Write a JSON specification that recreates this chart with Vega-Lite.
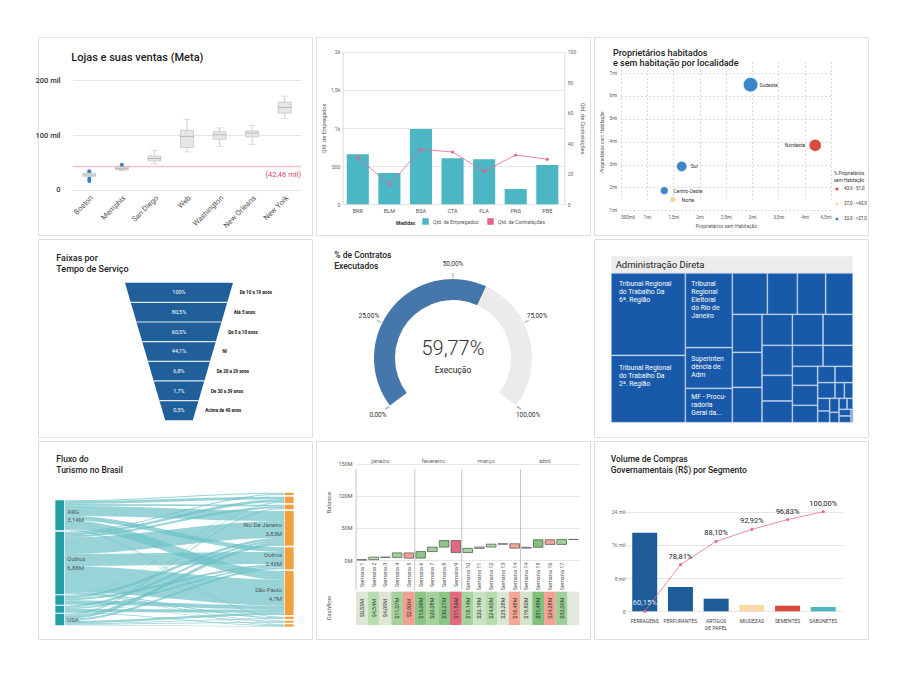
{
"$schema":"https://vega.github.io/schema/vega-lite/v6.json",
"padding":{"left":34,"top":36,"right":4,"bottom":4},
"background":"white",
"config":{"font":"Roboto","view":{"stroke":"#dedede","strokeWidth":1,"fill":"white"},
"locale":{"number":{"decimal":",","thousands":".","grouping":[3],"currency":["R$ ",""]}}},
"columns":3,
"spacing":4,
"bounds":"flush",
"concat":[
{"width":274,"height":198,
"title":{"text":"Lojas e suas ventas (Meta)","anchor":"start","frame":"group","offset":-25.5,"dx":33.3,"fontSize":11,"fontWeight":500,"color":"#222"},
"data":{"values":[
{"s":"Boston","lo":23000,"q1":24500,"m":27000,"q3":30000,"hi":31500},
{"s":"Memphis","lo":35000,"q1":36500,"m":38500,"q3":41500,"hi":43000},
{"s":"San Diego","lo":47500,"q1":52500,"m":57000,"q3":61500,"hi":72000},
{"s":"Web","lo":69000,"q1":77000,"m":97500,"q3":108500,"hi":128500},
{"s":"Washington","lo":79000,"q1":92000,"m":100500,"q3":106000,"hi":113000},
{"s":"New Orleans","lo":83000,"q1":96500,"m":103500,"q3":107500,"hi":117500},
{"s":"New York","lo":130000,"q1":140000,"m":150500,"q3":160000,"hi":171000}]},
"layer":[
{"mark":{"type":"rule","color":"#c2c2c2","strokeWidth":0.8},
"encoding":{
"x":{"field":"s","type":"nominal","title":null,"scale":{"domain":["Boston","Memphis","San Diego","Web","Washington","New Orleans","New York"],"range":[35,263],"paddingInner":0,"paddingOuter":0},"axis":{"orient":"bottom","offset":-45.3,"labelAngle":-45,"labelFontSize":7.5,"labelColor":"#555","ticks":false,"domain":false,"labelPadding":4,"grid":false}},
"y":{"field":"lo","type":"quantitative","title":null,"scale":{"domain":[0,200000],"range":[152.7,43.3],"nice":false},"axis":{"offset":-24,"values":[0,100000,200000],"labelExpr":"datum.value == 0 ? '0' : datum.value/1000 + ' mil'","labelFontSize":7.5,"labelColor":"#333","labelFontWeight":500,"ticks":false,"domain":false,"grid":true,"gridColor":"#e4e4e4","labelPadding":2}},
"y2":{"field":"hi"}}},
{"mark":{"type":"tick","color":"#c2c2c2","size":7,"thickness":0.8},"encoding":{"x":{"field":"s","type":"nominal","title":null},"y":{"field":"lo","type":"quantitative","title":null}}},
{"mark":{"type":"tick","color":"#c2c2c2","size":7,"thickness":0.8},"encoding":{"x":{"field":"s","type":"nominal","title":null},"y":{"field":"hi","type":"quantitative","title":null}}},
{"mark":{"type":"bar","size":13,"fill":"#e6e6e6","stroke":"#c6c6c6","strokeWidth":0.8},"encoding":{"x":{"field":"s","type":"nominal","title":null},"y":{"field":"q1","type":"quantitative","title":null},"y2":{"field":"q3"}}},
{"mark":{"type":"tick","size":13,"thickness":1,"color":"#a3a3a3"},"encoding":{"x":{"field":"s","type":"nominal","title":null},"y":{"field":"m","type":"quantitative","title":null}}},
{"mark":{"type":"tick","size":32.6,"thickness":1.5,"color":"#f2a5b6"},"encoding":{"x":{"field":"s","type":"nominal","title":null},"y":{"datum":42460}}},
{"data":{"values":[{"s":"Boston","v":33600},{"s":"Boston","v":20100},{"s":"Boston","v":15900},{"s":"Memphis","v":45500}]},
"mark":{"type":"circle","size":16,"color":"#3b7dc0","opacity":1},"encoding":{"x":{"field":"s","type":"nominal","title":null},"y":{"field":"v","type":"quantitative","title":null}}},
{"data":{"values":[{"t":"(42,46 mil)"}]},"mark":{"type":"text","align":"right","baseline":"middle","fontSize":7.5,"color":"#d9456b","dy":9},
"encoding":{"x":{"datum":"New York","type":"nominal","bandPosition":1},"y":{"datum":42460},"text":{"field":"t"}}}
]},
{"width":274,"height":198,
"data":{"values":[{"c":"BRR","e":655,"k":30.8},{"c":"BLM","e":410,"k":12.8},{"c":"BSA","e":987,"k":36},{"c":"CTA","e":603,"k":34.3},{"c":"FLA","e":590,"k":21.6},{"c":"PNS","e":200,"k":32.3},{"c":"PBE","e":515,"k":29.5}]},
"layer":[
{"mark":{"type":"bar"},
"encoding":{
"x":{"field":"c","type":"nominal","sort":null,"title":null,"scale":{"range":[26,247.1],"paddingInner":0.3,"paddingOuter":0.15},"axis":{"offset":-30.7,"labelAngle":0,"labelFontSize":5.5,"labelColor":"#555","ticks":false,"domain":false,"labelPadding":4}},
"y":{"field":"e","type":"quantitative","scale":{"domain":[0,2000],"range":[167.3,14.7],"nice":false},"axis":{"offset":-26.7,"values":[0,500,1000,1500,2000],"labelExpr":"datum.value >= 1000 ? format(datum.value/1000,'~g') + 'k' : datum.label","labelFontSize":5,"labelColor":"#666","ticks":false,"domain":true,"domainColor":"#dcdcdc","grid":true,"gridColor":"#e6e6e6","title":"Qtd. de Empregados","titleFontSize":5.5,"titleFontWeight":"normal","titleColor":"#555","labelPadding":3,"titlePadding":4}},
"color":{"datum":"Qtd. de Empregados","scale":{"domain":["Qtd. de Empregados","Qtd. de Contratações"],"range":["#4db6c4","#e2668a"]},"legend":{"orient":"none","legendX":80,"legendY":181,"direction":"horizontal","title":"Medidas","titleOrient":"left","titleFontSize":5,"titleFontWeight":"bold","titleColor":"#333","labelFontSize":5,"labelColor":"#555","symbolType":"square","symbolSize":25,"columnPadding":6,"titlePadding":6}}}},
{"mark":{"type":"line","strokeWidth":0.8,"point":{"filled":true,"size":10}},
"encoding":{
"x":{"field":"c","type":"nominal","sort":null,"title":null},
"y":{"field":"k","type":"quantitative","scale":{"domain":[0,100],"range":[167.3,14.7],"nice":false},"axis":{"orient":"right","offset":-25.7,"values":[0,20,40,60,80,100],"labelFontSize":5,"labelColor":"#666","ticks":false,"domain":true,"domainColor":"#dcdcdc","grid":false,"title":"Qtd. de Contratações","titleFontSize":5.5,"titleFontWeight":"normal","titleColor":"#555","labelPadding":3,"titlePadding":4}},
"color":{"datum":"Qtd. de Contratações"}}}
],
"resolve":{"scale":{"y":"independent"}}},
{"width":274,"height":198,
"title":{"text":["Proprietários habitados","e sem habitação por localidade"],"anchor":"start","frame":"group","offset":-31.2,"dx":19,"fontSize":9,"lineHeight":10.6,"fontWeight":500,"color":"#222"},
"data":{"values":[
{"r":"Sudeste","x":2970000,"y":6490000,"p":20.1,"g":"33,0 - <37,0"},
{"r":"Nordeste","x":4200000,"y":3840000,"p":14.1,"g":"43,9 - 51,0"},
{"r":"Sul","x":1660000,"y":2920000,"p":10.2,"g":"33,0 - <37,0"},
{"r":"Centro-Oeste","x":1330000,"y":1860000,"p":5.8,"g":"33,0 - <37,0"},
{"r":"Norte","x":1490000,"y":1470000,"p":3.4,"g":"37,0 - <43,9"}]},
"encoding":{
"x":{"field":"x","type":"quantitative","scale":{"domain":[500000,4500000],"range":[26.7,237],"nice":false,"zero":false},"axis":{"offset":-24.7,"values":[500000,1000000,1500000,2000000,2500000,3000000,3500000,4000000,4500000],"labelExpr":"datum.value < 1000000 ? format(datum.value/1000,'~g') + 'mil' : format(datum.value/1000000,'~g') + 'mi'","labelFlush":true,"labelFontSize":4.5,"labelColor":"#555","ticks":false,"domain":false,"grid":true,"gridDash":[2,2],"gridColor":"#d8d8d8","title":"Proprietários sem Habitação","titleFontSize":4.8,"titleFontWeight":"normal","titleColor":"#555","labelPadding":4,"titlePadding":5}},
"y":{"field":"y","type":"quantitative","scale":{"domain":[1000000,7000000],"range":[173.3,36],"nice":false,"zero":false},"axis":{"offset":-26.7,"values":[1000000,2000000,3000000,4000000,5000000,6000000,7000000],"labelExpr":"format(datum.value/1000000,'~g') + 'mi'","labelFontSize":4.5,"labelColor":"#555","ticks":false,"domain":false,"grid":true,"gridDash":[2,2],"gridColor":"#d8d8d8","title":"Proprietários com Habitação","titleFontSize":4.8,"titleFontWeight":"normal","titleColor":"#555","labelPadding":4,"titlePadding":5}}},
"layer":[
{"mark":{"type":"circle","opacity":1,"stroke":"white","strokeWidth":0.5},
"encoding":{"size":{"field":"p","type":"quantitative","scale":{"domain":[0,20.1],"range":[0,210]},"legend":null},
"color":{"field":"g","type":"nominal","scale":{"domain":["43,9 - 51,0","37,0 - <43,9","33,0 - <37,0"],"range":["#d84a3e","#fbd5a1","#3a86c8"]},"legend":{"orient":"none","legendX":240,"legendY":134,"title":["% Proprietários","sem Habitação"],"titleFontSize":4.5,"titleFontWeight":"normal","titleColor":"#333","labelFontSize":4.5,"labelColor":"#333","symbolType":"square","symbolSize":18,"rowPadding":3,"titlePadding":4}}}},
{"transform":[{"filter":"datum.r != 'Nordeste'"}],"mark":{"type":"text","align":"left","baseline":"middle","dx":9,"fontSize":5,"color":"#333"},"encoding":{"text":{"field":"r"}}},
{"transform":[{"filter":"datum.r == 'Nordeste'"}],"mark":{"type":"text","align":"right","baseline":"middle","dx":-10,"fontSize":5,"color":"#333"},"encoding":{"text":{"field":"r"}}}
]},
{"width":274,"height":198,
"title":{"text":["Faixas por","Tempo de Serviço"],"anchor":"start","frame":"group","offset":-34.6,"dx":18.3,"fontSize":9,"lineHeight":10.7,"fontWeight":500,"color":"#222"},
"layer":[
{"data":{"values":[{"k":0,"l":-1,"r":1},{"k":7,"l":-0.256,"r":0.256}]},"mark":{"type":"area","orient":"horizontal","color":"#215f9a","opacity":1},
"encoding":{"y":{"field":"k","type":"quantitative","scale":{"domain":[-2.22,7.85],"reverse":true,"nice":false,"zero":false},"axis":null},"x":{"field":"l","type":"quantitative","scale":{"domain":[-2.611,2.463],"nice":false,"zero":false},"axis":null},"x2":{"field":"r"}}},
{"data":{"values":[{"k":1,"l":-0.894,"r":0.894},{"k":2,"l":-0.787,"r":0.787},{"k":3,"l":-0.681,"r":0.681},{"k":4,"l":-0.575,"r":0.575},{"k":5,"l":-0.468,"r":0.468},{"k":6,"l":-0.362,"r":0.362}]},
"mark":{"type":"rule","color":"#dfe8f2","strokeWidth":1.2},"encoding":{"y":{"field":"k","type":"quantitative","axis":null},"x":{"field":"l","type":"quantitative","axis":null},"x2":{"field":"r"}}},
{"data":{"values":[{"k":0.5,"p":"100%","n":"De 10 a 19 anos","h":0.947},{"k":1.5,"p":"80,5%","n":"Até 5 anos","h":0.84},{"k":2.5,"p":"60,5%","n":"De 5 a 10 anos","h":0.734},{"k":3.5,"p":"44,1%","n":"NI","h":0.628},{"k":4.5,"p":"6,8%","n":"De 20 a 29 anos","h":0.522},{"k":5.5,"p":"1,7%","n":"De 30 a 39 anos","h":0.415},{"k":6.5,"p":"0,5%","n":"Acima de 40 anos","h":0.309}]},
"layer":[
{"mark":{"type":"text","color":"white","fontSize":5.5,"baseline":"middle"},"encoding":{"y":{"field":"k","type":"quantitative","axis":null},"x":{"datum":0,"type":"quantitative","axis":null},"text":{"field":"p"}}},
{"mark":{"type":"text","align":"left","baseline":"middle","dx":9.5,"dy":1,"fontSize":4.5,"fontWeight":"bold","color":"#111"},"encoding":{"y":{"field":"k","type":"quantitative","axis":null},"x":{"field":"h","type":"quantitative","axis":null},"text":{"field":"n"}}}
]}
]},
{"width":274,"height":198,
"title":{"text":["% de Contratos","Executados"],"anchor":"start","frame":"group","offset":-31.1,"dx":18.3,"fontSize":8.5,"lineHeight":10.3,"fontWeight":500,"color":"#222"},
"layer":[
{"data":{"values":[{"p":"Executado","s":0,"e":59.77},{"p":"Restante","s":59.77,"e":100}]},
"mark":{"type":"arc","radius":79,"radius2":58,"yOffset":20},
"encoding":{"theta":{"field":"s","type":"quantitative","stack":null,"scale":{"domain":[0,100],"range":[-2.217,2.217]}},"theta2":{"field":"e"},
"color":{"field":"p","type":"nominal","scale":{"domain":["Executado","Restante"],"range":["#4677aa","#ebebeb"]},"legend":null}}},
{"data":{"values":[{"a":-0.25,"b":0.25},{"a":24.8,"b":25.2},{"a":49.8,"b":50.2},{"a":74.8,"b":75.2},{"a":99.75,"b":100.25}]},
"mark":{"type":"arc","radius":85,"radius2":80,"yOffset":20,"color":"#bdbdbd"},
"encoding":{"theta":{"field":"a","type":"quantitative","stack":null},"theta2":{"field":"b"}}},
{"data":{"values":[{"v":0,"l":"0,00%"},{"v":25,"l":"25,00%"},{"v":50,"l":"50,00%"},{"v":75,"l":"75,00%"},{"v":100,"l":"100,00%"}]},
"mark":{"type":"text","radius":94,"yOffset":20,"fontSize":6.5,"color":"#333"},
"encoding":{"theta":{"field":"v","type":"quantitative"},"text":{"field":"l"}}},
{"data":{"values":[{"t":"59,77%"}]},"mark":{"type":"text","fontSize":20,"fontWeight":300,"dy":11,"color":"#333","baseline":"middle"},"encoding":{"text":{"field":"t"}}},
{"data":{"values":[{"t":"Execução"}]},"mark":{"type":"text","fontSize":8.5,"dy":32,"color":"#222","baseline":"middle"},"encoding":{"text":{"field":"t"}}}
]},
{"width":274,"height":198,
"layer":[
{"data":{"values":[{"x":0,"x2":724,"y":-51,"y2":0}]},"mark":{"type":"rect","color":"#ececec"},
"encoding":{"x":{"field":"x","type":"quantitative","scale":{"domain":[0,724],"range":[17.3,258.7],"nice":false,"zero":false},"axis":null},"x2":{"field":"x2"},
"y":{"field":"y","type":"quantitative","scale":{"domain":[-51,447],"range":[17.3,183.3],"nice":false,"zero":false},"axis":null},"y2":{"field":"y2"}}},
{"data":{"values":[{"x":13,"y":-25,"t":"Administração Direta"}]},"mark":{"type":"text","align":"left","baseline":"middle","fontSize":9.5,"color":"#222"},
"encoding":{"x":{"field":"x","type":"quantitative","axis":null},"y":{"field":"y","type":"quantitative","axis":null},"text":{"field":"t"}}},
{"data":{"values":[
{"x":0,"x2":221,"y":0,"y2":245},{"x":0,"x2":221,"y":247,"y2":447},
{"x":223,"x2":362,"y":0,"y2":222},{"x":223,"x2":362,"y":224,"y2":344},{"x":223,"x2":362,"y":346,"y2":447},
{"x":364,"x2":467,"y":0,"y2":122},{"x":469,"x2":557,"y":0,"y2":122},{"x":559,"x2":642,"y":0,"y2":122},{"x":644,"x2":724,"y":0,"y2":122},
{"x":364,"x2":451,"y":124,"y2":236},{"x":364,"x2":451,"y":238,"y2":341},{"x":364,"x2":451,"y":343,"y2":447},
{"x":453,"x2":542,"y":124,"y2":215},{"x":453,"x2":542,"y":217,"y2":305},{"x":453,"x2":542,"y":307,"y2":382},{"x":453,"x2":542,"y":384,"y2":447},
{"x":544,"x2":634,"y":124,"y2":215},{"x":636,"x2":724,"y":124,"y2":215},
{"x":544,"x2":634,"y":217,"y2":278},{"x":636,"x2":724,"y":217,"y2":278},
{"x":544,"x2":618,"y":280,"y2":335},{"x":544,"x2":618,"y":337,"y2":395},{"x":544,"x2":618,"y":397,"y2":447},
{"x":620,"x2":670,"y":280,"y2":327},{"x":672,"x2":724,"y":280,"y2":327},
{"x":620,"x2":670,"y":329,"y2":374},{"x":672,"x2":698,"y":329,"y2":374},{"x":700,"x2":724,"y":329,"y2":374},
{"x":620,"x2":654,"y":376,"y2":412},{"x":656,"x2":682,"y":376,"y2":416},{"x":684,"x2":706,"y":376,"y2":407},{"x":708,"x2":724,"y":376,"y2":407},
{"x":620,"x2":654,"y":414,"y2":447},{"x":656,"x2":682,"y":418,"y2":447},{"x":684,"x2":718,"y":409,"y2":427},{"x":684,"x2":718,"y":429,"y2":447},{"x":720,"x2":724,"y":409,"y2":447}]},
"mark":{"type":"rect","color":"#1959a9","stroke":"#c5d3ea","strokeWidth":0.6},
"encoding":{"x":{"field":"x","type":"quantitative","axis":null},"x2":{"field":"x2"},"y":{"field":"y","type":"quantitative","axis":null},"y2":{"field":"y2"}}},
{"data":{"values":[
{"x":23,"y":23,"t":"Tribunal Regional\ndo Trabalho Da\n6ª. Região"},
{"x":23,"y":275,"t":"Tribunal Regional\ndo Trabalho Da\n2ª. Região"},
{"x":240,"y":23,"t":"Tribunal\nRegional\nEleitoral\ndo Rio de\nJaneiro"},
{"x":240,"y":248,"t":"Superinten\ndência de\nAdm"},
{"x":240,"y":362,"t":"MF - Procu-\nradoria\nGeral da..."}]},
"mark":{"type":"text","align":"left","baseline":"top","fontSize":6.8,"lineHeight":8,"lineBreak":"\n","color":"white"},
"encoding":{"x":{"field":"x","type":"quantitative","axis":null},"y":{"field":"y","type":"quantitative","axis":null},"text":{"field":"t"}}}
]},
{"width":274,"height":198,
"title":{"text":["Fluxo do","Turismo no Brasil"],"anchor":"start","frame":"group","offset":-33.8,"dx":18.3,"fontSize":8.5,"lineHeight":11.3,"fontWeight":500,"color":"#222"},
"layer":[
{"data":{"values":[
{"f":1,"x":80,"y":178,"y2":181},{"f":1,"x":88,"y":178,"y2":181},{"f":1,"x":730,"y":155,"y2":158},{"f":1,"x":738,"y":155,"y2":158},
{"f":2,"x":80,"y":181,"y2":189},{"f":2,"x":88,"y":181,"y2":189},{"f":2,"x":730,"y":167,"y2":175},{"f":2,"x":738,"y":167,"y2":175},
{"f":3,"x":80,"y":189,"y2":194},{"f":3,"x":88,"y":189,"y2":194},{"f":3,"x":730,"y":191,"y2":196},{"f":3,"x":738,"y":191,"y2":196},
{"f":4,"x":80,"y":194,"y2":224},{"f":4,"x":88,"y":194,"y2":224},{"f":4,"x":730,"y":210,"y2":240},{"f":4,"x":738,"y":210,"y2":240},
{"f":5,"x":80,"y":224,"y2":238},{"f":5,"x":88,"y":224,"y2":238},{"f":5,"x":730,"y":319,"y2":333},{"f":5,"x":738,"y":319,"y2":333},
{"f":6,"x":80,"y":238,"y2":264},{"f":6,"x":88,"y":238,"y2":264},{"f":6,"x":730,"y":390,"y2":416},{"f":6,"x":738,"y":390,"y2":416},
{"f":7,"x":80,"y":264,"y2":266},{"f":7,"x":88,"y":264,"y2":266},{"f":7,"x":730,"y":527,"y2":529},{"f":7,"x":738,"y":527,"y2":529},
{"f":8,"x":80,"y":266,"y2":267},{"f":8,"x":88,"y":266,"y2":267},{"f":8,"x":730,"y":539,"y2":540},{"f":8,"x":738,"y":539,"y2":540},
{"f":9,"x":80,"y":267,"y2":268},{"f":9,"x":88,"y":267,"y2":268},{"f":9,"x":730,"y":550,"y2":551},{"f":9,"x":738,"y":550,"y2":551},
{"f":10,"x":80,"y":272,"y2":275},{"f":10,"x":88,"y":272,"y2":275},{"f":10,"x":730,"y":158,"y2":161},{"f":10,"x":738,"y":158,"y2":161},
{"f":11,"x":80,"y":275,"y2":283},{"f":11,"x":88,"y":275,"y2":283},{"f":11,"x":730,"y":175,"y2":183},{"f":11,"x":738,"y":175,"y2":183},
{"f":12,"x":80,"y":283,"y2":289},{"f":12,"x":88,"y":283,"y2":289},{"f":12,"x":730,"y":196,"y2":202},{"f":12,"x":738,"y":196,"y2":202},
{"f":13,"x":80,"y":289,"y2":339},{"f":13,"x":88,"y":289,"y2":339},{"f":13,"x":730,"y":240,"y2":290},{"f":13,"x":738,"y":240,"y2":290},
{"f":14,"x":80,"y":339,"y2":375},{"f":14,"x":88,"y":339,"y2":375},{"f":14,"x":730,"y":333,"y2":369},{"f":14,"x":738,"y":333,"y2":369},
{"f":15,"x":80,"y":375,"y2":453},{"f":15,"x":88,"y":375,"y2":453},{"f":15,"x":730,"y":416,"y2":494},{"f":15,"x":738,"y":416,"y2":494},
{"f":16,"x":80,"y":453,"y2":456},{"f":16,"x":88,"y":453,"y2":456},{"f":16,"x":730,"y":529,"y2":532},{"f":16,"x":738,"y":529,"y2":532},
{"f":17,"x":80,"y":456,"y2":458},{"f":17,"x":88,"y":456,"y2":458},{"f":17,"x":730,"y":540,"y2":542},{"f":17,"x":738,"y":540,"y2":542},
{"f":18,"x":80,"y":458,"y2":460},{"f":18,"x":88,"y":458,"y2":460},{"f":18,"x":730,"y":551,"y2":553},{"f":18,"x":738,"y":551,"y2":553},
{"f":19,"x":80,"y":463,"y2":464},{"f":19,"x":88,"y":463,"y2":464},{"f":19,"x":730,"y":183,"y2":184},{"f":19,"x":738,"y":183,"y2":184},
{"f":20,"x":80,"y":464,"y2":472},{"f":20,"x":88,"y":464,"y2":472},{"f":20,"x":730,"y":290,"y2":298},{"f":20,"x":738,"y":290,"y2":298},
{"f":21,"x":80,"y":472,"y2":478},{"f":21,"x":88,"y":472,"y2":478},{"f":21,"x":730,"y":369,"y2":375},{"f":21,"x":738,"y":369,"y2":375},
{"f":22,"x":80,"y":478,"y2":490},{"f":22,"x":88,"y":478,"y2":490},{"f":22,"x":730,"y":494,"y2":506},{"f":22,"x":738,"y":494,"y2":506},
{"f":23,"x":80,"y":490,"y2":491},{"f":23,"x":88,"y":490,"y2":491},{"f":23,"x":730,"y":542,"y2":543},{"f":23,"x":738,"y":542,"y2":543},
{"f":24,"x":80,"y":494,"y2":500},{"f":24,"x":88,"y":494,"y2":500},{"f":24,"x":730,"y":298,"y2":304},{"f":24,"x":738,"y":298,"y2":304},
{"f":25,"x":80,"y":500,"y2":504},{"f":25,"x":88,"y":500,"y2":504},{"f":25,"x":730,"y":375,"y2":379},{"f":25,"x":738,"y":375,"y2":379},
{"f":26,"x":80,"y":504,"y2":513},{"f":26,"x":88,"y":504,"y2":513},{"f":26,"x":730,"y":506,"y2":515},{"f":26,"x":738,"y":506,"y2":515},
{"f":27,"x":80,"y":513,"y2":515},{"f":27,"x":88,"y":513,"y2":515},{"f":27,"x":730,"y":553,"y2":555},{"f":27,"x":738,"y":553,"y2":555},
{"f":28,"x":80,"y":518,"y2":519},{"f":28,"x":88,"y":518,"y2":519},{"f":28,"x":730,"y":161,"y2":162},{"f":28,"x":738,"y":161,"y2":162},
{"f":29,"x":80,"y":519,"y2":521},{"f":29,"x":88,"y":519,"y2":521},{"f":29,"x":730,"y":184,"y2":186},{"f":29,"x":738,"y":184,"y2":186},
{"f":30,"x":80,"y":521,"y2":524},{"f":30,"x":88,"y":521,"y2":524},{"f":30,"x":730,"y":202,"y2":205},{"f":30,"x":738,"y":202,"y2":205},
{"f":31,"x":80,"y":524,"y2":534},{"f":31,"x":88,"y":524,"y2":534},{"f":31,"x":730,"y":304,"y2":314},{"f":31,"x":738,"y":304,"y2":314},
{"f":32,"x":80,"y":534,"y2":540},{"f":32,"x":88,"y":534,"y2":540},{"f":32,"x":730,"y":379,"y2":385},{"f":32,"x":738,"y":379,"y2":385},
{"f":33,"x":80,"y":540,"y2":547},{"f":33,"x":88,"y":540,"y2":547},{"f":33,"x":730,"y":515,"y2":522},{"f":33,"x":738,"y":515,"y2":522},
{"f":34,"x":80,"y":547,"y2":549},{"f":34,"x":88,"y":547,"y2":549},{"f":34,"x":730,"y":532,"y2":534},{"f":34,"x":738,"y":532,"y2":534},
{"f":35,"x":80,"y":549,"y2":551},{"f":35,"x":88,"y":549,"y2":551},{"f":35,"x":730,"y":543,"y2":545},{"f":35,"x":738,"y":543,"y2":545},
{"f":36,"x":80,"y":551,"y2":553},{"f":36,"x":88,"y":551,"y2":553},{"f":36,"x":730,"y":555,"y2":557},{"f":36,"x":738,"y":555,"y2":557}]},
"mark":{"type":"area","interpolate":"monotone","color":"#6cc0c6","opacity":0.7},
"encoding":{"x":{"field":"x","type":"quantitative","scale":{"domain":[0,822],"nice":false,"zero":false},"axis":null},
"y":{"field":"y","type":"quantitative","stack":null,"scale":{"domain":[0,594],"reverse":true,"nice":false,"zero":false},"axis":null},"y2":{"field":"y2"},"detail":{"field":"f","type":"nominal"}}},
{"data":{"values":[{"y":178,"y2":268},{"y":272,"y2":460},{"y":463,"y2":491},{"y":494,"y2":515},{"y":518,"y2":553}]},
"mark":{"type":"rect","color":"#259fa6"},"encoding":{"x":{"datum":52,"type":"quantitative","axis":null},"x2":{"datum":78},"y":{"field":"y","type":"quantitative","axis":null},"y2":{"field":"y2"}}},
{"data":{"values":[{"y":155,"y2":162},{"y":167,"y2":186},{"y":191,"y2":205},{"y":210,"y2":314},{"y":319,"y2":385},{"y":390,"y2":522},{"y":527,"y2":534},{"y":539,"y2":545},{"y":550,"y2":557}]},
"mark":{"type":"rect","color":"#f0a03f"},"encoding":{"x":{"datum":740,"type":"quantitative","axis":null},"x2":{"datum":767},"y":{"field":"y","type":"quantitative","axis":null},"y2":{"field":"y2"}}},
{"data":{"values":[{"x":88,"y":213,"t":"ARG"},{"x":88,"y":238,"t":"3,14M"},{"x":88,"y":353,"t":"Outros"},{"x":88,"y":380,"t":"6,88M"},{"x":88,"y":537,"t":"USA"}]},
"mark":{"type":"text","align":"left","baseline":"middle","fontSize":6,"color":"#555"},"encoding":{"x":{"field":"x","type":"quantitative","axis":null},"y":{"field":"y","type":"quantitative","axis":null},"text":{"field":"t"}}},
{"data":{"values":[{"x":732,"y":253,"t":"Rio De Janeiro"},{"x":732,"y":279,"t":"3,83M"},{"x":732,"y":343,"t":"Outros"},{"x":732,"y":369,"t":"2,46M"},{"x":732,"y":448,"t":"São Paulo"},{"x":732,"y":474,"t":"4,7M"}]},
"mark":{"type":"text","align":"right","baseline":"middle","fontSize":6,"color":"#555"},"encoding":{"x":{"field":"x","type":"quantitative","axis":null},"y":{"field":"y","type":"quantitative","axis":null},"text":{"field":"t"}}}
]},
{"width":274,"height":198,
"data":{"values":[
{"c":1,"w":"Semana 1","s":0,"e":0.53,"chg":0.53,"t":"$0,53M"},
{"c":2,"w":"Semana 2","s":0.53,"e":4.54,"chg":4.01,"t":"$4,54M"},
{"c":3,"w":"Semana 3","s":4.54,"e":4.05,"chg":-0.49,"t":"$4,05M"},
{"c":4,"w":"Semana 4","s":4.05,"e":11.07,"chg":7.02,"t":"$11,07M"},
{"c":5,"w":"Semana 5","s":11.07,"e":2.9,"chg":-8.17,"t":"$2,90M"},
{"c":6,"w":"Semana 6","s":2.9,"e":13.09,"chg":10.19,"t":"$13,09M"},
{"c":7,"w":"Semana 7","s":13.09,"e":20.08,"chg":6.99,"t":"$20,08M"},
{"c":8,"w":"Semana 8","s":20.08,"e":30.27,"chg":10.19,"t":"$30,27M"},
{"c":9,"w":"Semana 9","s":30.27,"e":11.54,"chg":-18.73,"t":"$11,54M"},
{"c":10,"w":"Semana 10","s":11.54,"e":18.14,"chg":6.6,"t":"$18,14M"},
{"c":11,"w":"Semana 11","s":18.14,"e":20.19,"chg":2.05,"t":"$20,19M"},
{"c":12,"w":"Semana 12","s":20.19,"e":24.6,"chg":4.41,"t":"$24,60M"},
{"c":13,"w":"Semana 13","s":24.6,"e":25.28,"chg":0.68,"t":"$25,28M"},
{"c":14,"w":"Semana 14","s":25.28,"e":18.48,"chg":-6.8,"t":"$18,48M"},
{"c":15,"w":"Semana 14","s":18.48,"e":19.8,"chg":1.32,"t":"$19,80M"},
{"c":16,"w":"Semana 15","s":19.8,"e":31.49,"chg":11.69,"t":"$31,49M"},
{"c":17,"w":"Semana 16","s":31.49,"e":24.28,"chg":-7.21,"t":"$24,28M"},
{"c":18,"w":"Semana 17","s":24.28,"e":32.0,"chg":7.72,"t":"$32,00M"},
{"c":19,"w":"","s":32.0,"e":32.0,"chg":0,"t":""}]},
"layer":[
{"mark":{"type":"rect"},
"encoding":{"x":{"field":"c","type":"ordinal","title":null,"scale":{"domain":[1,2,3,4,5,6,7,8,9,10,11,12,13,14,15,16,17,18,19],"range":[40,263.3],"paddingInner":0,"paddingOuter":0},"axis":null},
"y":{"datum":-49.3,"type":"quantitative","scale":{"domain":[0,150],"range":[119,22.7],"nice":false,"zero":false},"axis":{"offset":-40,"values":[0,50,100,150],"labelExpr":"datum.value + 'M'","labelFontSize":5.5,"labelColor":"#555","grid":true,"gridColor":"#e6e6e6","ticks":false,"domain":false,"title":null,"labelPadding":4}},
"y2":{"datum":-101.2},
"color":{"field":"chg","type":"quantitative","scale":{"type":"linear","domain":[-19,-7,0,3,12],"range":["#e06a7e","#f4a394","#e1e9dd","#bfe2b7","#7fbf7b"]},"legend":null}}},
{"mark":{"type":"bar","width":{"band":0.82},"stroke":"#5e5e5e","strokeWidth":0.8},
"encoding":{"x":{"field":"c","type":"ordinal","title":null,"axis":null},"y":{"field":"s","type":"quantitative","title":null},"y2":{"field":"e"},"color":{"field":"chg","type":"quantitative","legend":null}}},
{"mark":{"type":"text","angle":270,"align":"center","baseline":"middle","fontSize":5.5,"color":"#333"},
"encoding":{"x":{"field":"c","type":"ordinal","title":null,"axis":null},"y":{"datum":-75,"type":"quantitative"},"text":{"field":"t"}}},
{"mark":{"type":"text","angle":270,"align":"right","baseline":"middle","fontSize":5.5,"color":"#555"},
"encoding":{"x":{"field":"c","type":"ordinal","title":null,"axis":null},"y":{"datum":-4,"type":"quantitative"},"text":{"field":"w"}}},
{"data":{"values":[{"c":1},{"c":6},{"c":10},{"c":15}]},"mark":{"type":"rule","color":"#c4c4c4","strokeWidth":1},
"encoding":{"x":{"field":"c","type":"ordinal","bandPosition":0,"title":null,"axis":null},"y":{"datum":141,"type":"quantitative"},"y2":{"datum":-47}}},
{"data":{"values":[{"m":"janeiro","c":3},{"m":"março","c":12},{"m":"abril","c":17}]},"mark":{"type":"text","fontSize":6,"color":"#666","dx":-5,"baseline":"middle"},
"encoding":{"x":{"field":"c","type":"ordinal","title":null,"axis":null},"y":{"datum":154,"type":"quantitative"},"text":{"field":"m"}}},
{"data":{"values":[{"m":"fevereiro","c":8}]},"mark":{"type":"text","fontSize":6,"color":"#666","dx":-5,"baseline":"middle"},
"encoding":{"x":{"field":"c","type":"ordinal","bandPosition":0,"title":null,"axis":null},"y":{"datum":154,"type":"quantitative"},"text":{"field":"m"}}},
{"data":{"values":[{"t":"Balance","v":89,"c":1},{"t":"Cashflow","v":-75,"c":1}]},"mark":{"type":"text","angle":270,"fontSize":6,"color":"#555","xOffset":-27,"baseline":"middle"},
"encoding":{"x":{"field":"c","type":"ordinal","bandPosition":0,"title":null,"axis":null},"y":{"field":"v","type":"quantitative","title":null},"text":{"field":"t"}}}
]},
{"width":274,"height":198,
"title":{"text":["Volume de Compras","Governamentais (R$) por Segmento"],"anchor":"start","frame":"group","offset":-33.5,"dx":16.7,"fontSize":8.5,"lineHeight":10.7,"fontWeight":500,"color":"#222"},
"data":{"values":[{"s":"FERRAGENS","v":18900,"c":0.6015},{"s":"PERFURANTES","v":5860,"c":0.7881},{"s":"ARTIGOS DE PAPEL","v":3040,"c":0.881},{"s":"MIUDEZAS","v":1520,"c":0.9292},{"s":"SEMENTES","v":1350,"c":0.9683},{"s":"SABONETES","v":1040,"c":1}]},
"layer":[
{"mark":{"type":"bar"},
"encoding":{"x":{"field":"s","type":"nominal","sort":null,"title":null,"scale":{"range":[31.1,248.9],"paddingInner":0.3,"paddingOuter":0.2},"axis":{"offset":-27.7,"labelAngle":0,"labelFontSize":5,"labelColor":"#444","ticks":false,"domain":false,"labelPadding":7,"labelExpr":"datum.value == 'ARTIGOS DE PAPEL' ? ['ARTIGOS','DE PAPEL'] : datum.label"}},
"y":{"field":"v","type":"quantitative","title":null,"scale":{"domain":[0,24000],"range":[170.3,70.7],"nice":false},"axis":{"offset":-33,"values":[0,8000,16000,24000],"labelExpr":"datum.value == 0 ? '0' : datum.value/1000 + ' mil'","labelFontSize":5,"labelColor":"#666","grid":true,"gridColor":"#e6e6e6","ticks":false,"domain":false,"labelPadding":2}},
"color":{"field":"s","type":"nominal","scale":{"domain":["FERRAGENS","PERFURANTES","ARTIGOS DE PAPEL","MIUDEZAS","SEMENTES","SABONETES"],"range":["#1f5d99","#1f5d99","#1f5d99","#fbd9a4","#d94a3d","#4bb6c2"]},"legend":null}}},
{"mark":{"type":"line","color":"#e3708d","strokeWidth":0.8,"point":{"filled":true,"size":10,"color":"#e3708d"}},
"encoding":{"x":{"field":"s","type":"nominal","sort":null,"title":null},"y":{"field":"c","type":"quantitative","title":null,"scale":{"domain":[0.6015,1],"range":[170.3,70.7],"nice":false,"zero":false},"axis":null}}},
{"mark":{"type":"text","fontSize":7.5,"dy":-8,"baseline":"middle"},
"encoding":{"x":{"field":"s","type":"nominal","sort":null,"title":null},"y":{"field":"c","type":"quantitative","title":null,"scale":{"domain":[0.6015,1],"range":[170.3,70.7],"nice":false,"zero":false},"axis":null},
"text":{"field":"c","type":"quantitative","format":".2%"},
"color":{"condition":{"test":"datum.s == 'FERRAGENS'","value":"#dce8f5"},"value":"#222"}}}
],
"resolve":{"scale":{"y":"independent"}}}
]
}
